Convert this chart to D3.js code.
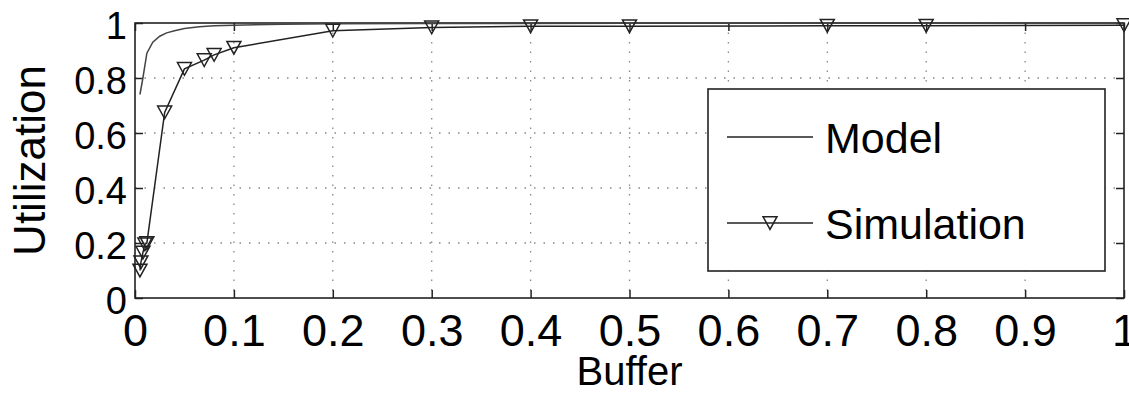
<!DOCTYPE html>
<html>
<head>
<meta charset="utf-8">
<script src="https://cdn.jsdelivr.net/npm/d3@7"></script>
<style>
  html, body { margin: 0; padding: 0; background: #fff; }
  svg { display: block; font-family: "Liberation Sans", Arial, sans-serif; }
</style>
</head>
<body>
<svg id="chart" width="1129" height="394"></svg>
<script>
// Tick values
const xTicks = [0, 0.1, 0.2, 0.3, 0.4, 0.5, 0.6, 0.7, 0.8, 0.9, 1];
const yTicks = [0, 0.2, 0.4, 0.6, 0.8, 1];

// Model curve
const modelX = [0.005, 0.008, 0.012, 0.018, 0.025, 0.032, 0.04, 0.05, 0.065, 0.08, 0.1, 0.15, 0.2, 0.3, 0.5, 1];
const modelY = [0.74, 0.80, 0.89, 0.93, 0.952, 0.964, 0.972, 0.98, 0.986, 0.99, 0.992, 0.995, 0.997, 0.998, 0.999, 1.0];

// Simulation points
const simX = [0.005, 0.006, 0.008, 0.01, 0.012, 0.03, 0.05, 0.07, 0.08, 0.1, 0.2, 0.3, 0.4, 0.5, 0.7, 0.8, 1];
const simY = [0.10, 0.13, 0.165, 0.195, 0.2, 0.675, 0.833, 0.865, 0.884, 0.91, 0.972, 0.984, 0.988, 0.988, 0.99, 0.99, 0.992];

const seriesNames = ["Model", "Simulation"];

const svg = d3.select("#chart");
const margin = { top: 23, right: 5, bottom: 96, left: 135 };
const W = 1129, H = 394;
const width = W - margin.left - margin.right;
const height = H - margin.top - margin.bottom;

const g = svg.append("g").attr("transform", `translate(${margin.left},${margin.top})`);

const x = d3.scaleLinear().domain([0, 1]).range([0, width]);
const y = d3.scaleLinear().domain([0, 1]).range([height, 0]);

// Dotted grid
g.append("g")
  .selectAll("line")
  .data(xTicks.filter((d) => d > 0 && d < 1))
  .enter()
  .append("line")
  .attr("x1", (d) => x(d))
  .attr("x2", (d) => x(d))
  .attr("y1", 0)
  .attr("y2", height)
  .attr("stroke", "#888")
  .attr("stroke-width", 1.3)
  .attr("stroke-dasharray", "1.5,8");

g.append("g")
  .selectAll("line")
  .data(yTicks.filter((d) => d > 0 && d < 1))
  .enter()
  .append("line")
  .attr("x1", 0)
  .attr("x2", width)
  .attr("y1", (d) => y(d))
  .attr("y2", (d) => y(d))
  .attr("stroke", "#888")
  .attr("stroke-width", 1.3)
  .attr("stroke-dasharray", "1.5,8");

// Axes with inward ticks on all four sides
const tickLen = 8;
const styleAxis = (sel) => {
  sel.select(".domain").remove();
  sel.selectAll("line").attr("stroke", "#222").attr("stroke-width", 1.5);
};

g.append("g")
  .attr("transform", `translate(0,${height})`)
  .call(d3.axisBottom(x).tickValues(xTicks).tickSize(-tickLen).tickFormat(d3.format("~g")))
  .call(styleAxis)
  .selectAll("text")
  .attr("y", 48)
  .attr("dy", 0)
  .style("font-size", "45px")
  .style("font-family", "Liberation Sans, Arial, sans-serif")
  .attr("fill", "#000");

g.append("g")
  .call(d3.axisTop(x).tickValues(xTicks).tickSize(-tickLen).tickFormat(""))
  .call(styleAxis);

g.append("g")
  .call(d3.axisLeft(y).tickValues(yTicks).tickSize(-tickLen).tickFormat(d3.format("~g")))
  .call(styleAxis)
  .selectAll("text")
  .attr("x", -8)
  .attr("dy", "0.4em")
  .style("font-size", "38px")
  .style("font-family", "Liberation Sans, Arial, sans-serif")
  .attr("fill", "#000");

g.append("g")
  .attr("transform", `translate(${width},0)`)
  .call(d3.axisRight(y).tickValues(yTicks).tickSize(-tickLen).tickFormat(""))
  .call(styleAxis);

// Axes box
g.append("rect")
  .attr("x", 0)
  .attr("y", 0)
  .attr("width", width)
  .attr("height", height)
  .attr("fill", "none")
  .attr("stroke", "#222")
  .attr("stroke-width", 1.6);

// Axis labels
g.append("text")
  .attr("x", width / 2)
  .attr("y", height + 87)
  .attr("text-anchor", "middle")
  .style("font-size", "40px")
  .text("Buffer");

g.append("text")
  .attr("transform", "rotate(-90)")
  .attr("x", -height / 2)
  .attr("y", -90)
  .attr("text-anchor", "middle")
  .style("font-size", "44px")
  .text("Utilization");

// Lines
const line = d3.line().x((d) => x(d[0])).y((d) => y(d[1]));
const modelData = modelX.map((v, i) => [v, modelY[i]]);
const simData = simX.map((v, i) => [v, simY[i]]);

g.append("path")
  .datum(modelData)
  .attr("fill", "none")
  .attr("stroke", "#444")
  .attr("stroke-width", 1.5)
  .attr("d", line);

g.append("path")
  .datum(simData)
  .attr("fill", "none")
  .attr("stroke", "#222")
  .attr("stroke-width", 1.5)
  .attr("d", line);

// Downward triangle marker
const tri = (s) => `M${-s / 2},${-s / 2.2}L${s / 2},${-s / 2.2}L0,${s / 2.2}Z`;

g.selectAll(".sim-marker")
  .data(simData)
  .enter()
  .append("path")
  .attr("class", "sim-marker")
  .attr("transform", (d) => `translate(${x(d[0])},${y(d[1])})`)
  .attr("d", tri(14))
  .attr("fill", "none")
  .attr("stroke", "#222")
  .attr("stroke-width", 1.5);

// Legend
const legend = svg.append("g").attr("transform", "translate(708,89)");
legend.append("rect")
  .attr("width", 397)
  .attr("height", 182)
  .attr("fill", "#fff")
  .attr("stroke", "#222")
  .attr("stroke-width", 1.6);

seriesNames.forEach((name, i) => {
  const ly = 48 + i * 86;
  const item = legend.append("g").attr("transform", `translate(0,${ly})`);
  item.append("line")
    .attr("x1", 19)
    .attr("x2", 105)
    .attr("stroke", "#222")
    .attr("stroke-width", 1.5);
  if (name === "Simulation") {
    item.append("path")
      .attr("transform", "translate(62,0)")
      .attr("d", tri(14))
      .attr("fill", "none")
      .attr("stroke", "#222")
      .attr("stroke-width", 1.5);
  }
  item.append("text")
    .attr("x", 117)
    .attr("y", 16)
    .style("font-size", "43px")
    .text(name);
});
</script>
</body>
</html>
